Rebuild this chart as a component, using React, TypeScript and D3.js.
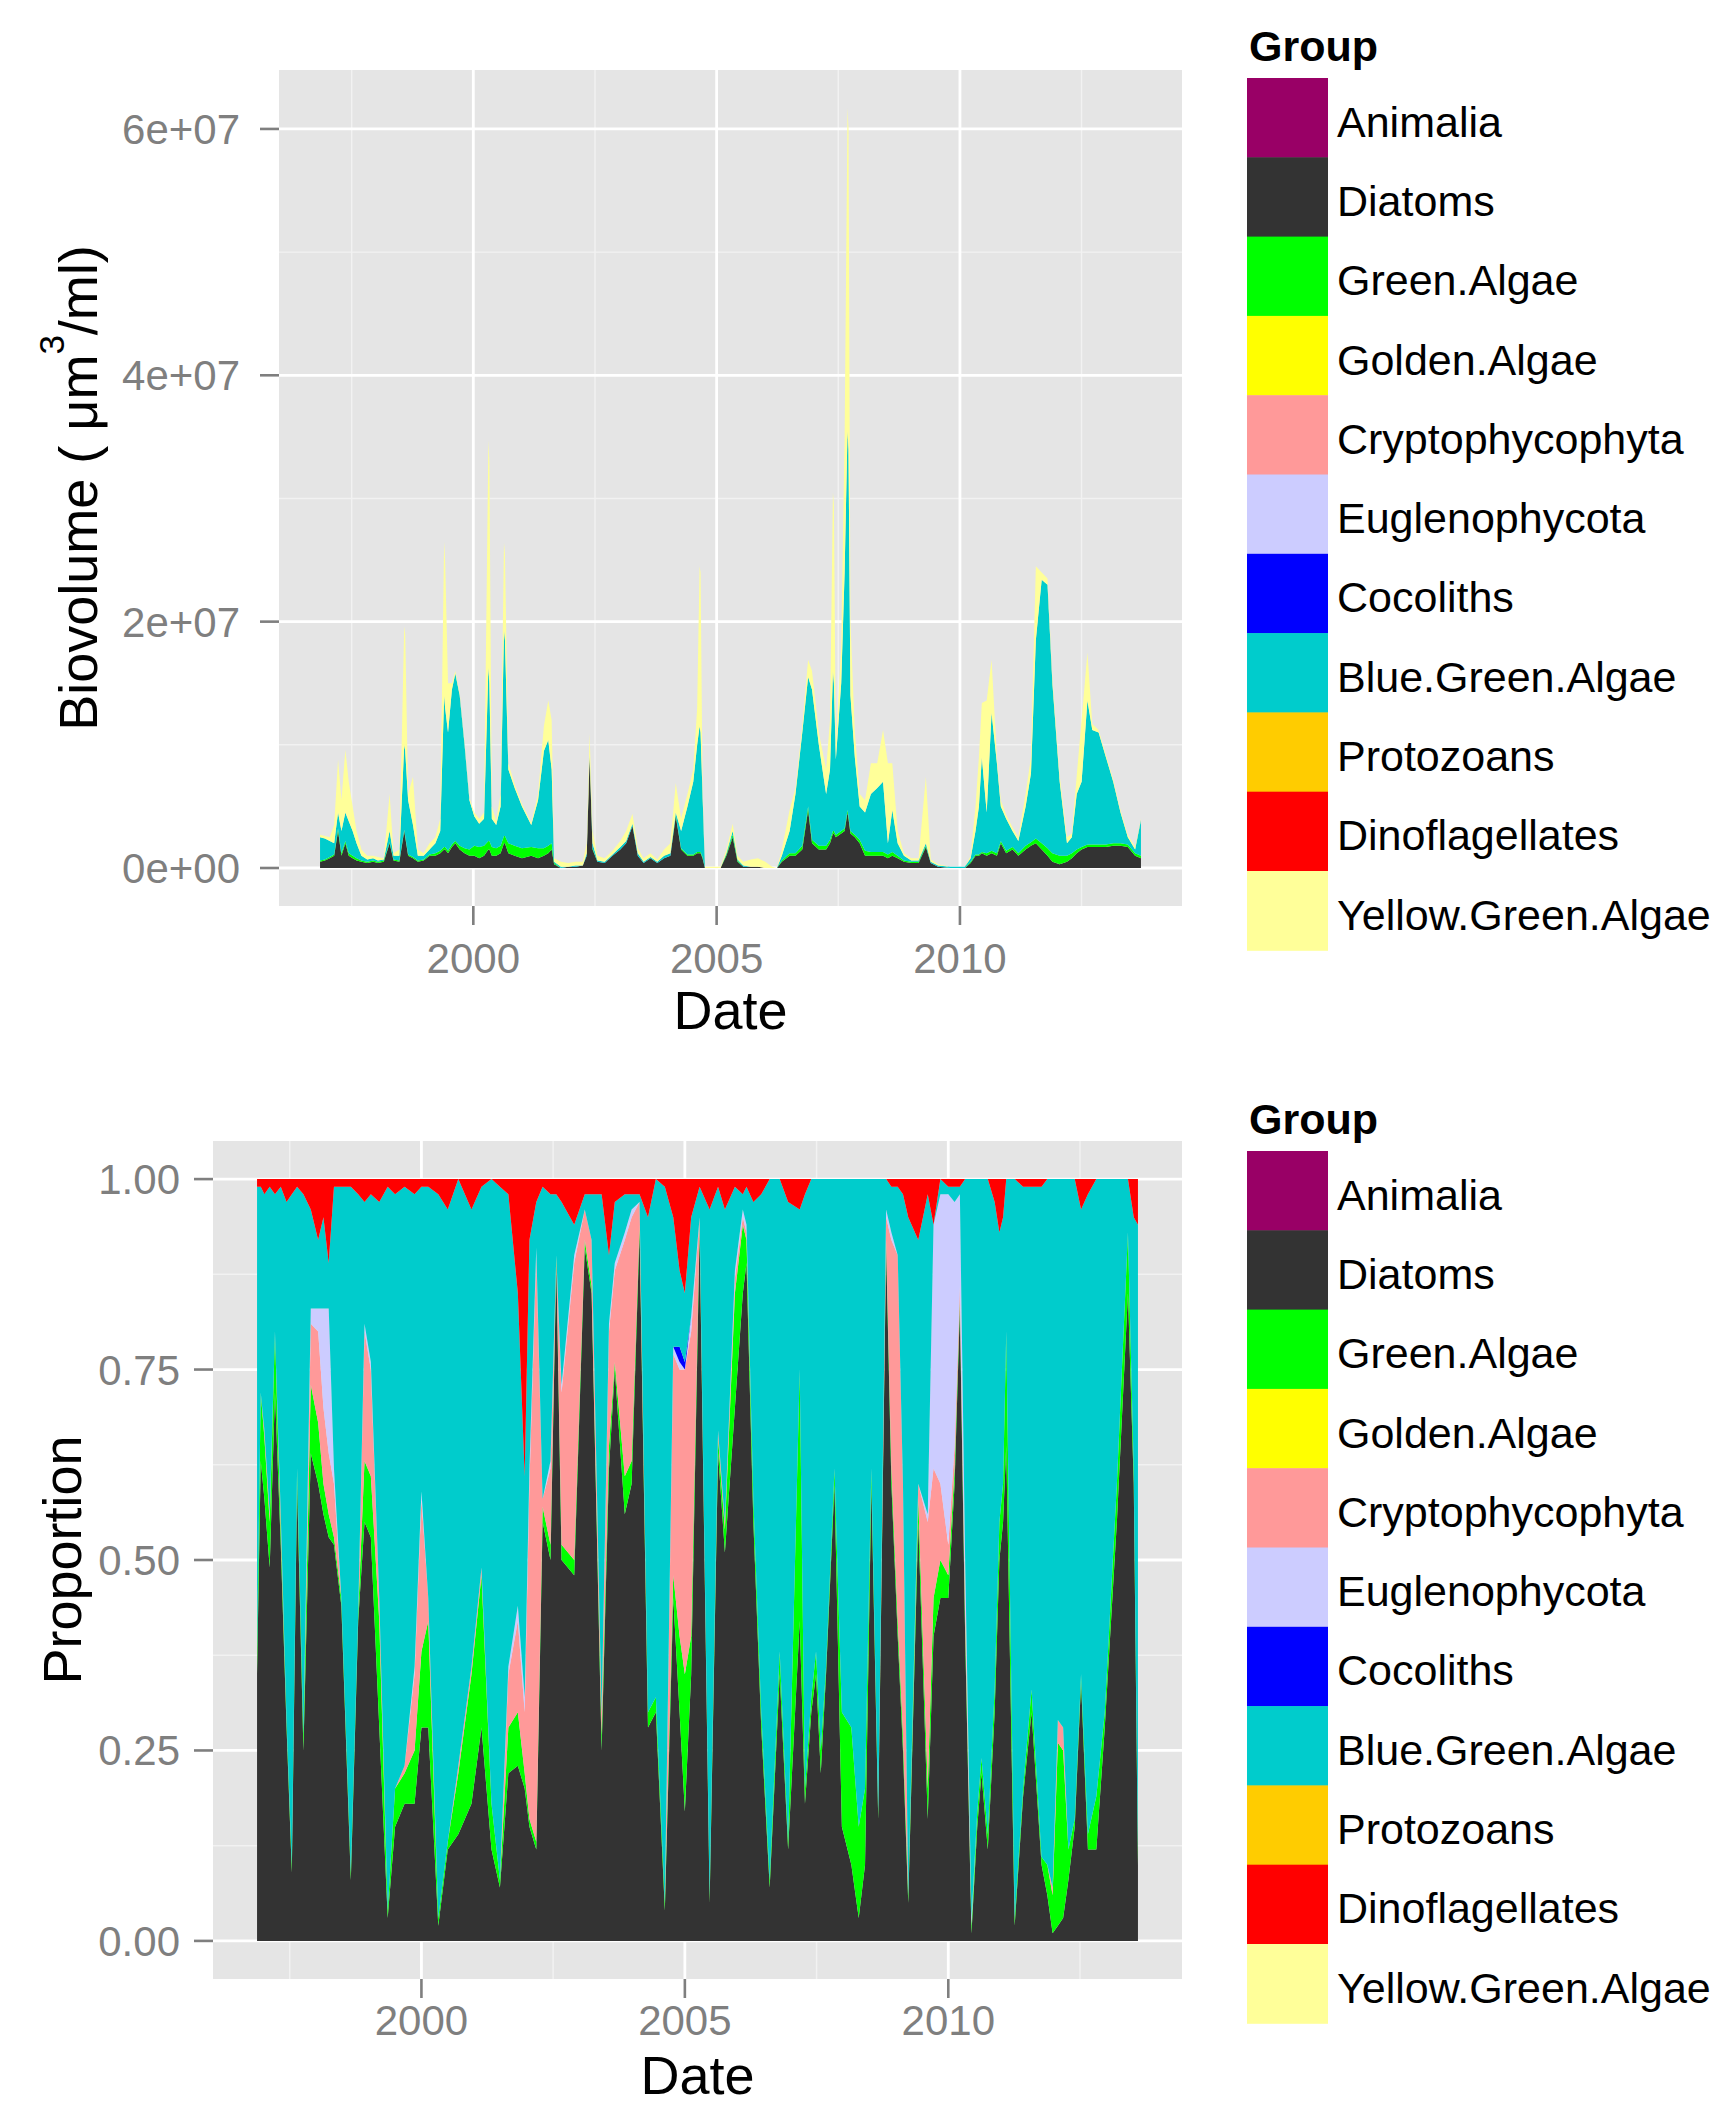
import * as d3 from "d3";

const FONT = "'Liberation Sans', Arial, Helvetica, sans-serif";

const GROUPS = [
  "Animalia",
  "Diatoms",
  "Green.Algae",
  "Golden.Algae",
  "Cryptophycophyta",
  "Euglenophycota",
  "Cocoliths",
  "Blue.Green.Algae",
  "Protozoans",
  "Dinoflagellates",
  "Yellow.Green.Algae",
];
const GROUP_COLORS = [
  "#990066",
  "#333333",
  "#00ff00",
  "#ffff00",
  "#ff9999",
  "#ccccff",
  "#0000ff",
  "#00cccc",
  "#ffcc00",
  "#ff0000",
  "#ffff99",
];

// ---- top panel: biovolume, dates as decimal years, values in 1e6 um^3/ml ----
const bvDates = [
  1996.85, 1996.95, 1997.05, 1997.14, 1997.22, 1997.29, 1997.37, 1997.44, 1997.52, 1997.6,
  1997.7, 1997.82, 1997.94, 1998.04, 1998.16, 1998.28, 1998.36, 1998.48, 1998.58, 1998.6, 1998.66,
  1998.76, 1998.86, 1998.98, 1999.1, 1999.22, 1999.32, 1999.4, 1999.42, 1999.48, 1999.56, 1999.63,
  1999.72, 1999.82, 1999.92, 2000.02, 2000.12, 2000.22, 2000.31, 2000.33, 2000.38, 2000.47, 2000.56,
  2000.63, 2000.65, 2000.72, 2000.85, 2001.0, 2001.19, 2001.33, 2001.45, 2001.54, 2001.61, 2001.66,
  2001.8, 2001.95, 2002.1, 2002.25, 2002.33, 2002.39, 2002.45, 2002.55, 2002.7, 2002.86,
  2003.02, 2003.14, 2003.27, 2003.38, 2003.5, 2003.64, 2003.78, 2003.92, 2004.05, 2004.16,
  2004.27, 2004.4, 2004.52, 2004.6, 2004.65, 2004.67, 2004.71, 2004.76, 2005.08, 2005.2, 2005.33,
  2005.43, 2005.55, 2005.7, 2005.85, 2006.0, 2006.14, 2006.24, 2006.34, 2006.5, 2006.62,
  2006.76, 2006.88, 2006.96, 2007.1, 2007.25, 2007.33, 2007.39, 2007.41, 2007.45, 2007.56, 2007.63,
  2007.69, 2007.71, 2007.75, 2007.84, 2007.94, 2008.05, 2008.17, 2008.3, 2008.42, 2008.52, 2008.61,
  2008.72, 2008.85, 2009.0, 2009.15, 2009.3, 2009.4, 2009.55, 2009.8, 2010.1, 2010.22,
  2010.32, 2010.39, 2010.45, 2010.55, 2010.65, 2010.76, 2010.84, 2010.95, 2011.08, 2011.2,
  2011.35, 2011.46, 2011.56, 2011.68, 2011.8, 2011.9, 2012.05, 2012.2, 2012.3, 2012.4,
  2012.5, 2012.62, 2012.72, 2012.85, 2013.0, 2013.15, 2013.3, 2013.45, 2013.6, 2013.72,
];
const bvDiatoms = [
  0.5, 0.6, 0.8, 1.0, 3.0, 1.0, 2.0, 1.0, 0.8, 0.6,
  0.5, 0.4, 0.5, 0.4, 0.5, 2.0, 0.6, 0.5, 3.0, 2.5, 1.0,
  0.8, 0.5, 0.6, 1.0, 1.0, 1.2, 1.5, 1.5, 1.2, 1.7, 2.0,
  1.5, 1.2, 1.0, 1.0, 0.8, 1.0, 1.5, 1.5, 1.0, 1.0, 1.2,
  2.0, 2.0, 1.2, 1.0, 0.8, 1.0, 0.8, 1.0, 1.2, 1.5, 0.3,
  0, 0.1, 0.1, 0.2, 1.0, 9.0, 1.5, 0.5, 0.4, 1.0,
  1.5, 2.0, 3.4, 1.0, 0.4, 0.8, 0.4, 0.8, 1.0, 4.2,
  1.5, 1.0, 1.0, 1.2, 1.2, 1.2, 0.8, 0, 0, 1.0, 2.5,
  0.5, 0.1, 0.1, 0.1, 0, 0, 0, 0.5, 1.0, 1.0,
  1.5, 4.7, 2.0, 1.5, 1.5, 2.0, 2.8, 2.8, 2.5, 2.8, 3.0,
  4.5, 4.0, 2.8, 2.5, 2.0, 1.0, 1.0, 1.0, 1.0, 0.8, 1.0,
  0.8, 0.5, 0.4, 0.4, 1.7, 0.4, 0.1, 0, 0, 0.4,
  1.0, 1.0, 1.2, 1.0, 1.2, 1.0, 2.0, 1.2, 1.5, 1.0,
  1.5, 1.8, 2.0, 1.5, 1.0, 0.5, 0.3, 0.5, 0.8, 1.2,
  1.5, 1.7, 1.7, 1.7, 1.7, 1.8, 1.8, 1.7, 1.0, 0.8,
];
const bvGreen = [
  0.1, 0.1, 0.1, 0.1, 0.2, 0.2, 0.2, 0.2, 0.2, 0.2,
  0.1, 0.1, 0.1, 0.1, 0.1, 0.1, 0.1, 0.1, 0.1, 0.1, 0.1,
  0.1, 0.1, 0.1, 0.1, 0.2, 0.2, 0.2, 0.2, 0.2, 0.2, 0.2,
  0.3, 0.4, 0.5, 0.8, 0.9, 0.8, 0.7, 0.7, 0.7, 0.6, 0.6,
  0.6, 0.6, 0.8, 0.8, 0.8, 0.7, 0.8, 0.6, 0.6, 0.5, 0.1,
  0, 0, 0, 0, 0, 0.1, 0.1, 0, 0, 0,
  0, 0, 0, 0, 0, 0, 0, 0, 0, 0.1,
  0.1, 0.1, 0.1, 0.1, 0.1, 0.1, 0.1, 0, 0, 0.1, 0.2,
  0.1, 0, 0, 0, 0, 0, 0, 0.1, 0.2, 0.2,
  0.3, 0.3, 0.3, 0.3, 0.3, 0.3, 0.2, 0.2, 0.2, 0.2, 0.2,
  0.2, 0.2, 0.2, 0.2, 0.3, 0.4, 0.3, 0.3, 0.3, 0.3, 0.3,
  0.2, 0.1, 0.1, 0.1, 0.1, 0, 0, 0, 0, 0.1,
  0.1, 0.1, 0.1, 0.2, 0.2, 0.2, 0.2, 0.2, 0.2, 0.2,
  0.3, 0.3, 0.4, 0.5, 0.6, 0.7, 0.7, 0.5, 0.4, 0.3,
  0.2, 0.2, 0.2, 0.2, 0.2, 0.2, 0.2, 0.2, 0.2, 0.2,
];
const bvBlueGreen = [
  1.9, 1.7, 1.3, 0.9, 1.3, 1.8, 2.3, 2.6, 2.0, 1.2,
  0.4, 0.2, 0.2, 0.1, 0.1, 0.9, 0.3, 0.4, 6.9, 6.9, 4.4,
  2.6, 0.4, 0.3, 0.4, 0.8, 1.6, 12.3, 11.3, 9.6, 12.6, 13.6,
  12.2, 8.4, 4.0, 2.4, 1.9, 2.2, 14.1, 12.8, 2.3, 1.9, 3.2,
  16.7, 15.9, 6.0, 4.7, 3.4, 1.8, 3.9, 7.9, 8.6, 6.0, 0.1,
  0.1, 0, 0.1, 0, 0.2, 0.1, 0.4, 0.1, 0.1, 0.1,
  0.2, 0.2, 0.2, 0.2, 0.1, 0.1, 0.1, 0.2, 0.2, 0.2,
  1.4, 3.9, 5.9, 8.7, 10.2, 9.7, 5.1, 0, 0, 0.1, 0.3,
  0.1, 0.1, 0, 0, 0, 0, 0, 0.4, 1.8, 4.8,
  9.2, 10.5, 12.2, 8.2, 4.2, 5.7, 13.0, 12.0, 6.1, 12.0, 20.8,
  30.8, 29.8, 11.0, 6.3, 2.7, 3.1, 4.7, 5.2, 5.7, 0.9, 3.4,
  1.0, 0.4, 0.1, 0.1, 0.2, 0.1, 0.1, 0.1, 0.1, 0.3,
  1.9, 3.9, 7.7, 3.3, 11.2, 7.3, 2.8, 2.6, 1.3, 1.0,
  3.2, 5.6, 16.1, 21.4, 21.4, 13.8, 6.0, 1.0, 1.3, 4.5,
  5.3, 11.7, 9.3, 9.1, 7.1, 5.0, 2.5, 0.6, 0.3, 2.9,
];
const bvYellowGreen = [
  0.2, 0.2, 0.3, 1.5, 4.3, 2.5, 5.1, 3.2, 2.0, 1.0,
  0.5, 0.3, 0.2, 0.3, 0.1, 3.0, 0.2, 0.5, 9.6, 9.5, 0.5,
  3.9, 0.5, 0.2, 0.5, 0.5, 1.0, 12.5, 12.0, 4.0, 0.5, 0.2,
  0.2, 0.2, 0.2, 0.3, 0.4, 0.5, 18.4, 18.0, 1.0, 0.3, 1.0,
  7.1, 7.0, 0.5, 0.3, 0.2, 0.2, 0.5, 2.0, 3.2, 4.0, 0.3,
  0.4, 0.3, 0.3, 0.3, 0.8, 1.7, 1.0, 0.4, 0.3, 0.3,
  0.5, 0.8, 0.8, 0.4, 0.3, 0.3, 0.2, 0.5, 0.8, 2.4,
  1.0, 1.0, 1.0, 3.0, 13.0, 13.0, 1.0, 0.1, 0.1, 0.3, 0.6,
  0.3, 0.3, 0.6, 0.7, 0.5, 0.1, 0, 0.5, 1.7, 0.5,
  0.5, 1.4, 1.5, 1.0, 2.0, 4.0, 14.5, 14.5, 1.2, 3.0, 11.0,
  26.2, 26.0, 6.0, 2.0, 1.0, 1.0, 2.5, 2.0, 4.2, 6.5, 3.8,
  1.0, 0.2, 0.2, 0.2, 5.4, 0.2, 0.1, 0, 0, 0.2,
  2.0, 4.0, 4.4, 9.1, 4.3, 0.5, 0.5, 0.3, 0.3, 0.3,
  1.0, 1.3, 6.0, 0.6, 0.5, 0.5, 0.5, 0.5, 0.3, 1.5,
  5.0, 3.9, 0.5, 0.2, 0.2, 0.2, 0.2, 0.2, 0.2, 0.1,
];

const bvTicks = [0, 2e7, 4e7, 6e7];
const bvTickLabels = ["0e+00", "2e+07", "4e+07", "6e+07"];

// ---- bottom panel: proportions ----
const prDates = [
  1996.88, 1996.95, 1997.02, 1997.12, 1997.22, 1997.33, 1997.44, 1997.54, 1997.64, 1997.76,
  1997.9, 1998.04, 1998.14, 1998.24, 1998.34, 1998.48, 1998.66, 1998.8, 1998.92, 1999.04,
  1999.2, 1999.36, 1999.5, 1999.68, 1999.87, 2000.0, 2000.13, 2000.32, 2000.5, 2000.7,
  2000.95, 2001.14, 2001.33, 2001.49, 2001.65, 2001.83, 2001.96, 2002.05, 2002.18, 2002.3,
  2002.45, 2002.56, 2002.66, 2002.9, 2003.1, 2003.23, 2003.42, 2003.56, 2003.67, 2003.86,
  2003.99, 2004.14, 2004.3, 2004.45, 2004.62, 2004.78, 2004.9, 2005.0, 2005.12, 2005.28,
  2005.47, 2005.63, 2005.76, 2005.95, 2006.1, 2006.17, 2006.3, 2006.45, 2006.61, 2006.8,
  2006.96, 2007.18, 2007.28, 2007.4, 2007.49, 2007.58, 2007.68, 2007.84, 2007.98, 2008.16,
  2008.3, 2008.42, 2008.54, 2008.67, 2008.82, 2008.92, 2009.04, 2009.14, 2009.24, 2009.43,
  2009.61, 2009.72, 2009.85, 2010.0, 2010.12, 2010.22, 2010.32, 2010.44, 2010.55, 2010.63,
  2010.75, 2010.88, 2010.97, 2011.04, 2011.1, 2011.26, 2011.42, 2011.58, 2011.77, 2011.88,
  2011.98, 2012.08, 2012.18, 2012.28, 2012.4, 2012.52, 2012.65, 2012.81, 2012.97, 2013.2,
  2013.41, 2013.52, 2013.6,
];
const prDiatoms = [
  0.35, 0.63, 0.58, 0.49, 0.72, 0.52, 0.28, 0.09, 0.6, 0.25,
  0.64, 0.6, 0.56, 0.53, 0.52, 0.44, 0.08, 0.42, 0.55, 0.53,
  0.28, 0.03, 0.15, 0.18, 0.18, 0.28, 0.28, 0.02, 0.12, 0.14,
  0.18, 0.28, 0.12, 0.07, 0.22, 0.23, 0.2, 0.15, 0.12, 0.55,
  0.5, 0.89, 0.5, 0.48, 0.91, 0.85, 0.25, 0.62, 0.75, 0.56,
  0.6, 0.93, 0.28, 0.3, 0.04, 0.45, 0.3, 0.17, 0.35, 0.93,
  0.05, 0.64, 0.51, 0.7, 0.85, 0.89, 0.55, 0.28, 0.07, 0.35,
  0.12, 0.42, 0.18, 0.3, 0.35, 0.22, 0.35, 0.6, 0.15, 0.1,
  0.03, 0.1, 0.6, 0.16, 0.91, 0.6, 0.4, 0.25, 0.05, 0.55,
  0.16, 0.4, 0.45, 0.45, 0.6, 0.83, 0.4, 0.01, 0.15, 0.22,
  0.12, 0.3, 0.5, 0.55, 0.65, 0.02, 0.19, 0.3, 0.1, 0.06,
  0.01, 0.02, 0.03, 0.08, 0.15, 0.34, 0.12, 0.12, 0.28, 0.55,
  0.85, 0.6, 0.1,
];
const prGreen = [
  0.03, 0.09, 0.08, 0.06, 0.08, 0.02, 0.01, 0.01, 0.02, 0.02,
  0.09, 0.08, 0.04, 0.03, 0.01, 0.01, 0.01, 0.01, 0.08, 0.08,
  0.14, 0.01, 0.05, 0.04, 0.07, 0.1, 0.14, 0.01, 0.01, 0.08,
  0.17, 0.2, 0.06, 0.01, 0.06, 0.07, 0.02, 0.01, 0.01, 0.02,
  0.02, 0.01, 0.02, 0.02, 0.01, 0.01, 0.02, 0.03, 0.01, 0.05,
  0.03, 0.01, 0.02, 0.02, 0.01, 0.03, 0.1, 0.18, 0.05, 0.01,
  0.01, 0.02, 0.03, 0.15, 0.09, 0.03, 0.03, 0.02, 0.01, 0.03,
  0.01, 0.33, 0.02, 0.02, 0.03, 0.03, 0.01, 0.02, 0.15, 0.18,
  0.12, 0.1, 0.02, 0.01, 0.01, 0.02, 0.02, 0.02, 0.01, 0.03,
  0.04, 0.05, 0.05, 0.03, 0.02, 0.01, 0.02, 0.01, 0.02, 0.02,
  0.02, 0.03, 0.05, 0.05, 0.15, 0.01, 0.01, 0.03, 0.01, 0.04,
  0.05, 0.24, 0.22, 0.04, 0.01, 0.01, 0.02, 0.07, 0.02, 0.05,
  0.08, 0.02, 0.02,
];
const prCrypto = [
  0, 0, 0.01, 0.01, 0, 0.02, 0, 0, 0, 0,
  0.08, 0.12, 0.1, 0.08, 0.07, 0, 0, 0, 0.17, 0.14,
  0.03, 0, 0, 0.01, 0.1, 0.2, 0.03, 0, 0, 0.01,
  0.01, 0.01, 0, 0, 0.07, 0.12, 0.08, 0.44, 0.77, 0.01,
  0.1, 0, 0.2, 0.39, 0.04, 0.06, 0.03, 0.15, 0.12, 0.31,
  0.32, 0.03, 0, 0, 0, 0.29, 0.35, 0.4, 0.4, 0.01,
  0, 0.01, 0.01, 0.02, 0.01, 0.01, 0, 0, 0, 0,
  0, 0, 0, 0, 0, 0, 0, 0, 0, 0,
  0, 0, 0, 0, 0.03, 0.3, 0.48, 0.33, 0, 0.02,
  0.35, 0.17, 0.1, 0.04, 0.03, 0.02, 0.03, 0, 0, 0,
  0, 0, 0, 0, 0, 0, 0, 0, 0, 0,
  0.01, 0.03, 0.03, 0, 0, 0, 0, 0, 0, 0,
  0, 0, 0,
];
const prEugleno = [
  0, 0, 0, 0, 0, 0, 0, 0, 0, 0,
  0.02, 0.03, 0.13, 0.19, 0.02, 0, 0, 0, 0.01, 0.01,
  0, 0, 0, 0, 0.01, 0.01, 0, 0, 0, 0,
  0, 0, 0, 0, 0.01, 0.02, 0.02, 0.02, 0.01, 0,
  0.01, 0, 0.01, 0.01, 0, 0, 0, 0.01, 0.01, 0.01,
  0.01, 0, 0, 0, 0, 0.01, 0.01, 0, 0.02, 0,
  0, 0, 0, 0.01, 0.01, 0.01, 0, 0, 0, 0,
  0, 0, 0, 0, 0, 0, 0, 0, 0, 0,
  0, 0, 0, 0, 0.01, 0.01, 0, 0, 0, 0,
  0.01, 0.32, 0.38, 0.46, 0.32, 0.12, 0.05, 0.01, 0, 0,
  0, 0, 0, 0, 0, 0, 0, 0, 0, 0,
  0, 0, 0, 0, 0, 0, 0, 0, 0, 0,
  0, 0, 0,
];
const prCocco = [
  0, 0, 0, 0, 0, 0, 0, 0, 0, 0,
  0, 0, 0, 0, 0, 0, 0, 0, 0, 0,
  0, 0, 0, 0, 0, 0, 0, 0, 0, 0,
  0, 0, 0, 0, 0, 0, 0, 0, 0, 0,
  0, 0, 0, 0, 0, 0, 0, 0, 0, 0,
  0, 0, 0, 0, 0, 0, 0.02, 0.01, 0, 0,
  0, 0, 0, 0, 0, 0, 0, 0, 0, 0,
  0, 0, 0, 0, 0, 0, 0, 0, 0, 0,
  0, 0, 0, 0, 0, 0, 0, 0, 0, 0,
  0, 0, 0, 0, 0, 0, 0, 0, 0, 0,
  0, 0, 0, 0, 0, 0, 0, 0, 0, 0,
  0, 0, 0, 0, 0, 0, 0, 0, 0, 0,
  0, 0, 0,
];
const prBlueGreen = [
  0.61, 0.27, 0.31, 0.43, 0.18, 0.43, 0.68, 0.88, 0.37, 0.71,
  0.13, 0.09, 0.12, 0.06, 0.37, 0.54, 0.9, 0.55, 0.16, 0.22,
  0.52, 0.95, 0.78, 0.76, 0.62, 0.4, 0.54, 0.95, 0.83, 0.77,
  0.6, 0.5, 0.82, 0.91, 0.62, 0.41, 0.29, 0.3, 0.06, 0.41,
  0.35, 0.08, 0.24, 0.04, 0.02, 0.06, 0.68, 0.09, 0.08, 0.05,
  0.02, 0.01, 0.65, 0.68, 0.94, 0.17, 0.1, 0.09, 0.13, 0.04,
  0.9, 0.32, 0.41, 0.11, 0.02, 0.05, 0.39, 0.68, 0.92, 0.62,
  0.84, 0.21, 0.78, 0.68, 0.62, 0.75, 0.64, 0.38, 0.7, 0.72,
  0.85, 0.8, 0.38, 0.83, 0.04, 0.06, 0.09, 0.38, 0.89, 0.32,
  0.42, 0, 0.02, 0.01, 0.02, 0.01, 0.5, 0.97, 0.83, 0.76,
  0.86, 0.64, 0.38, 0.35, 0.2, 0.97, 0.79, 0.66, 0.88, 0.9,
  0.93, 0.71, 0.72, 0.88, 0.84, 0.61, 0.84, 0.81, 0.7, 0.4,
  0.07, 0.33, 0.82,
];
const prDino = [
  0.01, 0.01, 0.02, 0.01, 0.02, 0.01, 0.03, 0.02, 0.01, 0.02,
  0.04, 0.08, 0.05, 0.11, 0.01, 0.01, 0.01, 0.02, 0.03, 0.02,
  0.03, 0.01, 0.02, 0.01, 0.02, 0.01, 0.01, 0.02, 0.04, 0,
  0.04, 0.01, 0, 0.01, 0.02, 0.15, 0.39, 0.08, 0.03, 0.01,
  0.02, 0.02, 0.03, 0.06, 0.02, 0.02, 0.02, 0.1, 0.03, 0.02,
  0.02, 0.02, 0.05, 0, 0.01, 0.05, 0.12, 0.15, 0.05, 0.01,
  0.04, 0.01, 0.04, 0.01, 0.02, 0.01, 0.03, 0.02, 0, 0,
  0.03, 0.04, 0.02, 0, 0, 0, 0, 0, 0, 0,
  0, 0, 0, 0, 0, 0.01, 0.01, 0.02, 0.05, 0.08,
  0.02, 0.06, 0, 0.01, 0.01, 0.01, 0, 0, 0, 0,
  0, 0.03, 0.07, 0.05, 0, 0, 0.01, 0.01, 0.01, 0,
  0, 0, 0, 0, 0, 0.04, 0.02, 0, 0, 0,
  0, 0.05, 0.06,
];

const prTicks = [0, 0.25, 0.5, 0.75, 1];
const prTickLabels = ["0.00", "0.25", "0.50", "0.75", "1.00"];

const yearTicks = [2000, 2005, 2010];

type Row = { date: number; [k: string]: number };

function buildRows(dates: number[], series: Record<string, number[]>, unit: number): Row[] {
  return dates.map((date, i) => {
    const row: Row = { date };
    GROUPS.forEach((g) => {
      row[g] = series[g] ? series[g][i] * unit : 0;
    });
    return row;
  });
}

const bvRows = buildRows(
  bvDates,
  {
    Diatoms: bvDiatoms,
    "Green.Algae": bvGreen,
    "Blue.Green.Algae": bvBlueGreen,
    "Yellow.Green.Algae": bvYellowGreen,
  },
  1e6
);

const prRows = buildRows(
  prDates,
  {
    Diatoms: prDiatoms,
    "Green.Algae": prGreen,
    Cryptophycophyta: prCrypto,
    Euglenophycota: prEugleno,
    Cocoliths: prCocco,
    "Blue.Green.Algae": prBlueGreen,
    Dinoflagellates: prDino,
  },
  1
);

function midpoints(ticks: number[]) {
  const step = ticks[1] - ticks[0];
  const ext = [ticks[0] - step, ...ticks, ticks[ticks.length - 1] + step];
  return d3.pairs(ext).map(([a, b]) => (a + b) / 2);
}

type PanelProps = {
  rows: Row[];
  left: number;
  top: number;
  width: number;
  height: number;
  yMax?: number;
  yTicks: number[];
  yLabels: string[];
  yLabelRight: number;
  xLabelBaseline: number;
  xTitleBaseline: number;
  yTitleX: number;
  yTitle: React.ReactNode;
};

function Panel(p: PanelProps) {
  const { rows, left, top, width, height } = p;
  const right = left + width;
  const bottom = top + height;

  const [d0, d1] = d3.extent(rows, (d) => d.date) as [number, number];
  const xPad = (d1 - d0) * 0.05;
  const x = d3.scaleLinear().domain([d0 - xPad, d1 + xPad]).range([left, right]);

  const series = d3.stack<Row>().keys(GROUPS)(rows);
  const top1 = p.yMax ?? (d3.max(series[series.length - 1], (d) => d[1]) as number);
  const yPad = top1 * 0.05;
  const y = d3.scaleLinear().domain([-yPad, top1 + yPad]).range([bottom, top]);

  const area = d3
    .area<d3.SeriesPoint<Row>>()
    .x((d) => x(d.data.date))
    .y0((d) => y(d[0]))
    .y1((d) => y(d[1]));

  const [xMin, xMax] = x.domain();
  const [yMin, yMaxD] = y.domain();
  const xMinor = midpoints(yearTicks).filter((v) => v > xMin && v < xMax);
  const yMinor = midpoints(p.yTicks).filter((v) => v > yMin && v < yMaxD);

  return (
    <g>
      <rect x={left} y={top} width={width} height={height} fill="#e5e5e5" />
      {yMinor.map((v) => (
        <line key={`ym${v}`} x1={left} x2={right} y1={y(v)} y2={y(v)} stroke="#f2f2f2" strokeWidth={1.4} />
      ))}
      {xMinor.map((v) => (
        <line key={`xm${v}`} x1={x(v)} x2={x(v)} y1={top} y2={bottom} stroke="#f2f2f2" strokeWidth={1.4} />
      ))}
      {p.yTicks.map((v) => (
        <line key={`yM${v}`} x1={left} x2={right} y1={y(v)} y2={y(v)} stroke="#ffffff" strokeWidth={2.8} />
      ))}
      {yearTicks.map((v) => (
        <line key={`xM${v}`} x1={x(v)} x2={x(v)} y1={top} y2={bottom} stroke="#ffffff" strokeWidth={2.8} />
      ))}

      {series.map((s, i) => (
        <path key={GROUPS[i]} d={area(s) ?? ""} fill={GROUP_COLORS[i]} />
      ))}

      {/* axes */}
      {p.yTicks.map((v, i) => (
        <g key={`yt${v}`}>
          <line x1={left - 19} x2={left} y1={y(v)} y2={y(v)} stroke="#7f7f7f" strokeWidth={2.6} />
          <text x={p.yLabelRight} y={y(v) + 15} textAnchor="end" fontSize={42} fill="#7f7f7f">
            {p.yLabels[i]}
          </text>
        </g>
      ))}
      {yearTicks.map((v) => (
        <g key={`xt${v}`}>
          <line x1={x(v)} x2={x(v)} y1={bottom} y2={bottom + 19} stroke="#7f7f7f" strokeWidth={2.6} />
          <text x={x(v)} y={p.xLabelBaseline} textAnchor="middle" fontSize={42} fill="#7f7f7f">
            {v}
          </text>
        </g>
      ))}
      <text x={(left + right) / 2} y={p.xTitleBaseline} textAnchor="middle" fontSize={54} fill="#000">
        Date
      </text>
      <text
        transform={`translate(${p.yTitleX}, ${(top + bottom) / 2}) rotate(-90)`}
        textAnchor="middle"
        fontSize={54}
        fill="#000"
      >
        {p.yTitle}
      </text>
    </g>
  );
}

function Legend({ baseline }: { baseline: number }) {
  const keyX = 1247;
  const keyW = 81;
  const keyH = 79.3;
  const keyTop = baseline + 17;
  return (
    <g>
      <text x={1249} y={baseline} fontSize={43} fontWeight="bold" fill="#000">
        Group
      </text>
      {GROUPS.map((g, i) => (
        <g key={g}>
          <rect x={keyX} y={keyTop + i * keyH} width={keyW} height={keyH + 0.5} fill={GROUP_COLORS[i]} />
          <text x={1337} y={keyTop + i * keyH + keyH / 2 + 19} fontSize={43} fill="#000">
            {g}
          </text>
        </g>
      ))}
    </g>
  );
}

export default function App() {
  return (
    <svg
      width={1723}
      height={2105}
      style={{ position: "absolute", left: 0, top: 0, background: "#fff", fontFamily: FONT }}
    >
      <rect width={1723} height={2105} fill="#fff" />
      <Panel
        rows={bvRows}
        left={279}
        top={70}
        width={903}
        height={836}
        yTicks={bvTicks}
        yLabels={bvTickLabels}
        yLabelRight={240}
        xLabelBaseline={973}
        xTitleBaseline={1029}
        yTitleX={97}
        yTitle={
          <>
            Biovolume ( μm
            <tspan fontSize={35} dy={-33}>
              3
            </tspan>
            <tspan dy={33}>/ml)</tspan>
          </>
        }
      />
      <Legend baseline={61} />

      <Panel
        rows={prRows}
        left={213}
        top={1141}
        width={969}
        height={838}
        yMax={1}
        yTicks={prTicks}
        yLabels={prTickLabels}
        yLabelRight={180}
        xLabelBaseline={2035}
        xTitleBaseline={2094}
        yTitleX={81}
        yTitle="Proportion"
      />
      <Legend baseline={1134} />
    </svg>
  );
}
